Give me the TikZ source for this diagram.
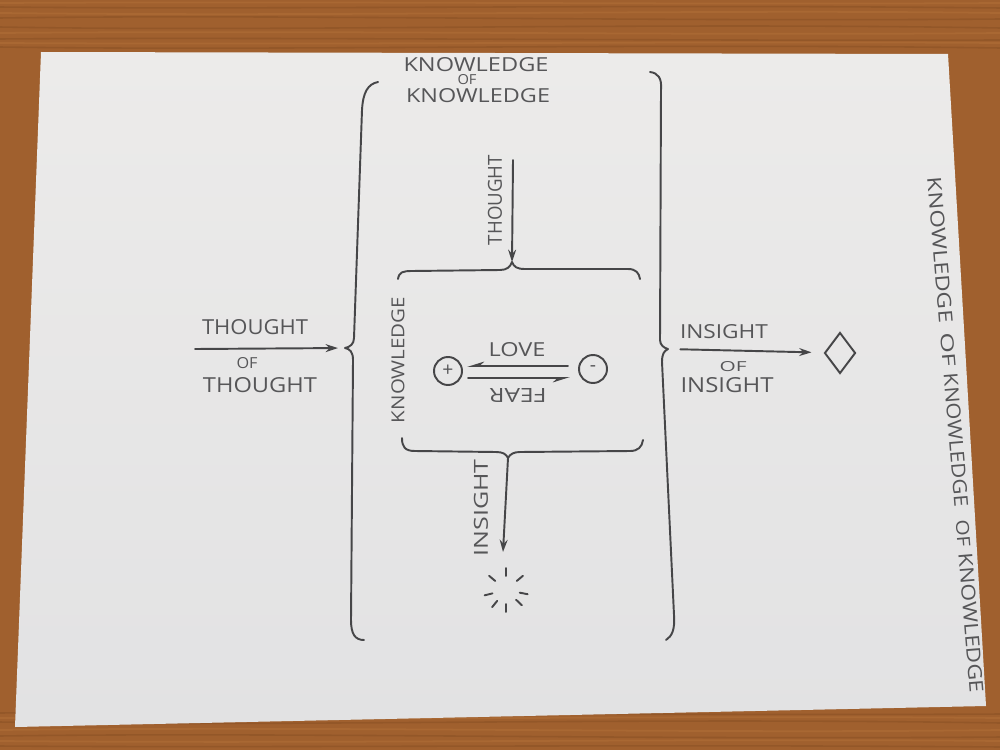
\documentclass[tikz,border=0pt]{standalone}
\usepackage{fontspec}
\usepackage{graphicx}
\setmainfont{Open Sans}
\usetikzlibrary{arrows.meta,shapes.geometric}
\definecolor{wood}{RGB}{160,96,46}
\definecolor{wooddark}{RGB}{112,62,26}
\definecolor{woodlight}{RGB}{186,120,62}
\definecolor{papertop}{RGB}{236,235,234}
\definecolor{paperlow}{RGB}{226,226,227}
\definecolor{ink}{RGB}{70,70,72}
\definecolor{inkt}{RGB}{86,86,88}
\newlength\pxu
\setlength\pxu{0.02cm}
\newcommand\hw[3]{\resizebox{#1\pxu}{#2\pxu}{#3}}
\begin{document}
\begin{tikzpicture}[x=0.02cm,y=-0.02cm,
  pencil/.style={draw=ink,line width=1.1pt,line cap=round,line join=round},
  lbl/.style={inner sep=0pt,text=inkt},
  tipS/.style={-{Stealth[length=7pt,width=4.5pt]}},
  tipH/.style={-{Stealth[length=8pt,width=5pt,harpoon,swap]}},
  ring/.style={circle,draw=ink,line width=1.1pt,minimum size=28\pxu,inner sep=0pt,text=inkt,font=\fontsize{11pt}{11pt}\selectfont},
  grain/.style={draw=wooddark,opacity=0.25,line width=0.9pt},
  grainl/.style={draw=woodlight,opacity=0.35,line width=1pt},
  edgetext/.style={lbl,rotate=-85.3}]
\useasboundingbox (0,0) rectangle (1000,750);
% wood table
\fill[wood] (0,0) rectangle (1000,750);
\foreach \y/\d in {7/3,18/-4,27/5,39/-2,47/4,713/-3,722/5,736/-4,746/2}
  \draw[grain] (0,\y) .. controls (280,\y+\d) and (640,\y-\d) .. (1000,\y+1);
\foreach \y/\d in {3/-2,13/4,33/-3,43/2,718/3,730/-4,741/3}
  \draw[grainl] (0,\y) .. controls (350,\y+\d) and (700,\y-\d) .. (1000,\y);
% paper sheet
\shade[top color=papertop,bottom color=paperlow] (41,52) -- (948,54) -- (986,706) -- (15,727) -- cycle;

% big left bracket
\coordinate (lcusp) at (345,348);
\draw[pencil] (378,82) .. controls (368,84) and (363,92) .. (362,110)
  -- (354,338) .. controls (354,344) and (350,347) .. (lcusp)
  .. controls (350,349) and (353,352) .. (353,360)
  -- (351,620) .. controls (351,634) and (355,640) .. (364,640);
% big right bracket
\coordinate (rcusp) at (668,349);
\draw[pencil] (650,72) .. controls (658,73) and (662,78) .. (661,90)
  -- (660,340) .. controls (660,345) and (664,348) .. (rcusp)
  .. controls (664,351) and (662,354) .. (662,362)
  -- (674,615) .. controls (675,630) and (672,636) .. (666,640);
% inner top brace
\coordinate (tcusp) at (512,262);
\draw[pencil] (398,279) .. controls (399,272) and (403,271) .. (412,271)
  -- (500,270) .. controls (507,270) and (510,267) .. (tcusp)
  .. controls (514,267) and (517,269) .. (525,269)
  -- (628,269) .. controls (636,269) and (639,273) .. (640,279);
% inner bottom brace
\coordinate (bcusp) at (508,458);
\draw[pencil] (402,438) .. controls (402,447) and (405,451) .. (415,451)
  -- (496,452) .. controls (503,452) and (506,454) .. (bcusp)
  .. controls (510,454) and (514,452) .. (520,452)
  -- (630,451) .. controls (638,451) and (642,447) .. (643,440);

% top labels
\node[lbl] (kk1) at (476,65) {\hw{145}{14}{KNOWLEDGE}};
\node[lbl] (kkof) at (467,80) {\hw{19}{10}{OF}};
\node[lbl] (kk2) at (478,96) {\hw{144}{14}{KNOWLEDGE}};

% thought arrow down
\coordinate (tstart) at (513,160);
\draw[pencil,tipS] (tstart) -- (tcusp);
\node[lbl,rotate=90] (tv) at (495,200) {\hw{90}{14}{THOUGHT}};

% knowledge vertical
\node[lbl,rotate=90] (kv) at (398,360) {\hw{126}{13}{KNOWLEDGE}};

% plus and minus
\node[ring] (pl) at (448,371) {+};
\node[ring] (mi) at (593,369) {-};
\coordinate (loveS) at (568,366);
\coordinate (loveE) at (467,366);
\coordinate (fearS) at (468,378);
\coordinate (fearE) at (570,378);
\draw[pencil,tipH] (loveS) -- (loveE);
\draw[pencil,tipH] (fearS) -- (fearE);
\node[lbl] (love) at (517,350) {\hw{57}{14}{LOVE}};
\node[lbl,rotate=180] (fear) at (518,395) {\hw{57}{14}{FEAR}};

% insight arrow down
\coordinate (iend) at (503,552);
\draw[pencil,tipS] (bcusp) -- (iend);
\node[lbl,rotate=90] (iv) at (481,508) {\hw{97}{14}{INSIGHT}};

% sparkle
\coordinate (sp) at (506,590);
\foreach \a in {-90,-140,-40,-194,11,-231,-270,-316}
  \draw[pencil] (sp) ++(\a:14) -- ++(\a:8);

% left thought of thought
\coordinate (la) at (195,349);
\draw[pencil,tipS,shorten >=4pt] (la) -- (lcusp);
\node[lbl] (tt) at (255,327) {\hw{106}{15}{THOUGHT}};
\node[lbl] (tof) at (247,363) {\hw{21}{11}{OF}};
\node[lbl] (tb) at (260,385) {\hw{114}{15}{THOUGHT}};

% right insight of insight
\node[diamond,draw=ink,line width=1.1pt,minimum width=31\pxu,minimum height=41\pxu,inner sep=0pt] (dia) at (840,353) {};
\draw[pencil,tipS,shorten <=7pt,shorten >=7pt] (rcusp) -- (dia);
\node[lbl] (it) at (724,332) {\hw{88}{14}{INSIGHT}};
\node[lbl] (iof) at (733,367) {\hw{27}{10}{OF}};
\node[lbl] (ib) at (727,385) {\hw{93}{15}{INSIGHT}};

% long vertical text at right edge
\node[edgetext] (kkk1) at (940,250) {\hw{146}{14}{KNOWLEDGE}};
\node[edgetext] (kkk2) at (948,350) {\hw{34}{13}{OF}};
\node[edgetext] (kkk3) at (956,440) {\hw{134}{14}{KNOWLEDGE}};
\node[edgetext] (kkk4) at (963,533) {\hw{27}{13}{OF}};
\node[edgetext] (kkk5) at (971,623) {\hw{140}{14}{KNOWLEDGE}};
\end{tikzpicture}
\end{document}
